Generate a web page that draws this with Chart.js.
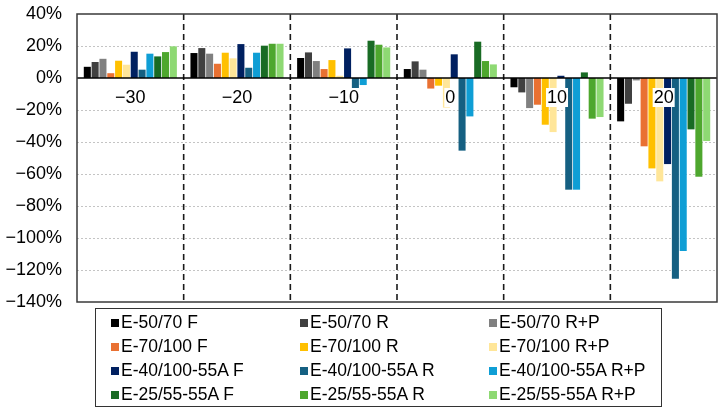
<!DOCTYPE html>
<html>
<head>
<meta charset="utf-8">
<script src="https://cdn.jsdelivr.net/npm/chart.js@4.4.1/dist/chart.umd.min.js"></script>
<style>
  body { margin: 0; background: #fff; }
  #wrap { position: relative; width: 725px; height: 412px; font-family: "Liberation Sans", Arial, sans-serif; }
  #legend { position: absolute; left: 95px; top: 308px; width: 567px; height: 99px;
            border: 1.5px solid #333; box-sizing: border-box; }
  .item { position: absolute; height: 20px; line-height: 20px; font-size: 17.5px; color: #000; white-space: nowrap; }
  .item span.box { display: inline-block; width: 8px; height: 8px; margin-right: 2px; vertical-align: 1px; }
</style>
</head>
<body>
<div id="wrap">
  <canvas id="chart" width="725" height="412"></canvas>
  <div id="legend"></div>
</div>
<script>
// temperatures (categories)
const categories = ['\u221230', '\u221220', '\u221210', '0', '10', '20'];

const seriesNames = [
  'E-50/70 F', 'E-50/70 R', 'E-50/70 R+P',
  'E-70/100 F', 'E-70/100 R', 'E-70/100 R+P',
  'E-40/100-55A F', 'E-40/100-55A R', 'E-40/100-55A R+P',
  'E-25/55-55A F', 'E-25/55-55A R', 'E-25/55-55A R+P'
];

const seriesColors = [
  '#000000', '#404040', '#808080',
  '#E97132', '#FFC000', '#FFE699',
  '#002060', '#156082', '#0F9ED5',
  '#196B24', '#4EA72E', '#8ED973'
];

// values in %, one array per series (order: -30, -20, -10, 0, 10, 20)
const e5070F     = [7, 15.6, 12.5, 5.6, -5.8, -27.1];
const e5070R     = [10, 18.7, 16, 10.4, -9, -16.1];
const e5070RP    = [12, 15.2, 10.6, 5.2, -18.8, -1.5];
const e70100F    = [3, 8.9, 5.6, -6.6, -16.7, -42.7];
const e70100R    = [10.8, 15.8, 11.2, -4.8, -29.2, -56.5];
const e70100RP   = [8.3, 12.3, 1.4, -18.5, -33.8, -64.6];
const e40100F    = [16.4, 21.2, 18.5, 14.8, 1.4, -53.8];
const e40100R    = [5.2, 6.4, -13.6, -45.4, -69.8, -125.4];
const e40100RP   = [15.2, 15.8, -4.4, -24, -69.8, -108.1];
const e2555F     = [13.5, 20.2, 23.3, 22.7, 3.5, -32.1];
const e2555R     = [16.2, 21.4, 20.8, 10.6, -25.4, -61.7];
const e2555RP    = [19.8, 21.4, 19.1, 8.5, -24.4, -39.4];

const seriesValues = [e5070F, e5070R, e5070RP, e70100F, e70100R, e70100RP,
                      e40100F, e40100R, e40100RP, e2555F, e2555R, e2555RP];

const yTicks = [40, 20, 0, -20, -40, -60, -80, -100, -120, -140];

const FONT = '"Liberation Sans", Arial, sans-serif';

function fmtPct(v) {
  return (v < 0 ? '\u2212' + Math.abs(v) : String(v)) + '%';
}

const decor = {
  id: 'decor',
  beforeDatasetsDraw(chart) {
    const { ctx, chartArea: a, scales: { x, y } } = chart;
    ctx.save();
    // dotted horizontal grid
    ctx.strokeStyle = '#c4c4c4';
    ctx.lineWidth = 1;
    ctx.setLineDash([2, 2]);
    yTicks.forEach(t => {
      if (t === 40 || t === -140 || t === 0) return;
      const py = Math.round(y.getPixelForValue(t)) + 0.5;
      ctx.beginPath(); ctx.moveTo(a.left, py); ctx.lineTo(a.right, py); ctx.stroke();
    });
    // dashed category separators
    ctx.strokeStyle = '#1a1a1a';
    ctx.lineWidth = 1.6;
    ctx.setLineDash([6, 4]);
    for (let i = 0; i < categories.length - 1; i++) {
      const px = (x.getPixelForValue(i) + x.getPixelForValue(i + 1)) / 2;
      ctx.beginPath(); ctx.moveTo(px, a.top); ctx.lineTo(px, a.bottom); ctx.stroke();
    }
    ctx.restore();
  },
  afterDatasetsDraw(chart) {
    const { ctx, chartArea: a, scales: { x, y } } = chart;
    ctx.save();
    const y0 = y.getPixelForValue(0);
    ctx.strokeStyle = '#000';
    ctx.lineWidth = 1.5;
    ctx.beginPath(); ctx.moveTo(a.left, y0); ctx.lineTo(a.right, y0); ctx.stroke();

    // category labels under the zero line
    ctx.font = '18px ' + FONT;
    ctx.textAlign = 'center';
    ctx.textBaseline = 'middle';
    categories.forEach((c, i) => {
      const px = x.getPixelForValue(i);
      const w = ctx.measureText(c).width;
      ctx.fillStyle = '#fff';
      ctx.fillRect(px - w / 2 - 1, y0 + 10, w + 2, 19);
      ctx.fillStyle = '#000';
      ctx.fillText(c, px, y0 + 20);
    });

    // plot border
    ctx.strokeStyle = '#3a3a3a';
    ctx.lineWidth = 1.5;
    ctx.strokeRect(a.left, a.top, a.right - a.left, a.bottom - a.top);
    ctx.restore();
  }
};

const chart = new Chart(document.getElementById('chart').getContext('2d'), {
  type: 'bar',
  data: {
    labels: categories,
    datasets: seriesNames.map((name, i) => ({
      label: name,
      data: seriesValues[i],
      backgroundColor: seriesColors[i],
      borderWidth: 0,
      categoryPercentage: 0.88,
      barPercentage: 0.9
    }))
  },
  options: {
    responsive: false,
    animation: false,
    layout: { padding: { top: 14, right: 8, bottom: 110, left: 0 } },
    plugins: { legend: { display: false }, tooltip: { enabled: false } },
    scales: {
      x: {
        ticks: { display: false },
        grid: { display: false },
        border: { display: false },
        afterFit: s => { s.height = 0; }
      },
      y: {
        min: -140,
        max: 40,
        afterBuildTicks: s => { s.ticks = yTicks.map(v => ({ value: v })); },
        ticks: {
          padding: 15,
          color: '#000',
          font: { family: FONT, size: 18 },
          callback: v => fmtPct(v)
        },
        grid: { display: false, drawTicks: false },
        border: { display: false },
        afterFit: s => { s.width = 77; s.paddingTop = 0; s.paddingBottom = 0; }
      }
    }
  },
  plugins: [decor]
});

// html legend, 3 columns x 4 rows
const legendEl = document.getElementById('legend');
chart.data.datasets.forEach((ds, i) => {
  const col = i % 3, row = Math.floor(i / 3);
  const it = document.createElement('div');
  it.className = 'item';
  it.style.left = (15 + col * 189) + 'px';
  it.style.top = (3 + row * 24) + 'px';
  it.innerHTML = '<span class="box" style="background:' + ds.backgroundColor + '"></span>' + ds.label;
  legendEl.appendChild(it);
});
</script>
</body>
</html>
